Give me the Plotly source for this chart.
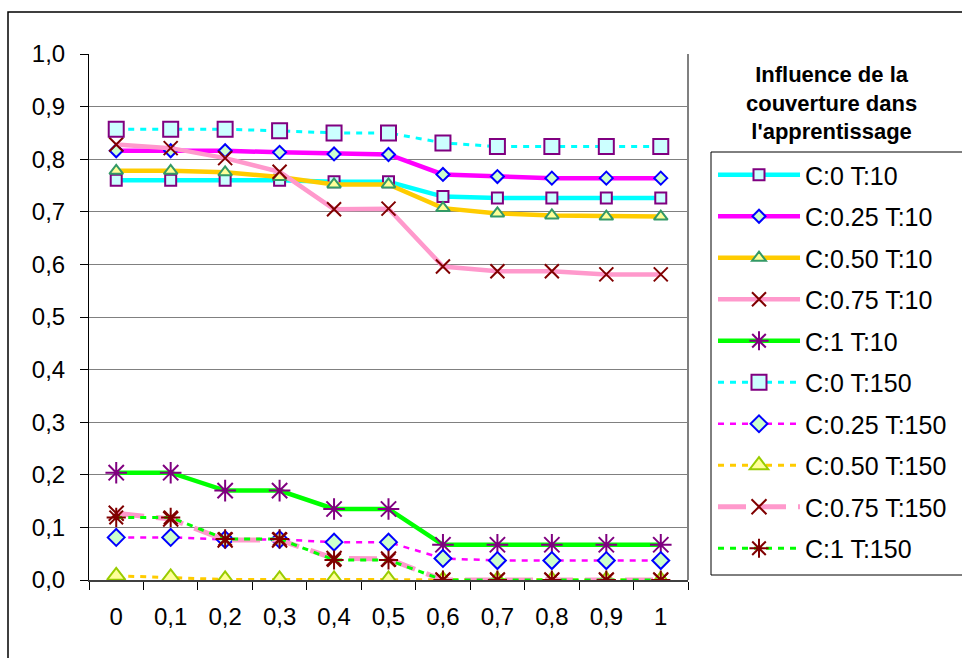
import plotly.graph_objects as go

# ---- data ----
x_labels = ["0", "0,1", "0,2", "0,3", "0,4", "0,5", "0,6", "0,7", "0,8", "0,9", "1"]

c0_t10 = [0.760, 0.760, 0.760, 0.760, 0.757, 0.757, 0.729, 0.726, 0.726, 0.726, 0.726]
c25_t10 = [0.816, 0.816, 0.816, 0.813, 0.810, 0.809, 0.771, 0.767, 0.764, 0.764, 0.764]
c50_t10 = [0.778, 0.778, 0.775, 0.766, 0.752, 0.752, 0.707, 0.697, 0.693, 0.691, 0.691]
c75_t10 = [0.828, 0.821, 0.802, 0.776, 0.705, 0.706, 0.596, 0.587, 0.587, 0.581, 0.581]
c1_t10 = [0.204, 0.204, 0.170, 0.170, 0.135, 0.135, 0.067, 0.067, 0.067, 0.067, 0.067]
c0_t150 = [0.857, 0.857, 0.857, 0.854, 0.850, 0.850, 0.831, 0.824, 0.824, 0.824, 0.824]
c25_t150 = [0.081, 0.081, 0.077, 0.077, 0.072, 0.072, 0.041, 0.037, 0.037, 0.037, 0.037]
c50_t150 = [0.008, 0.005, 0.001, 0.001, 0.001, 0.001, 0.0, 0.0, 0.0, 0.0, 0.0]
c75_t150 = [0.127, 0.116, 0.076, 0.076, 0.041, 0.040, 0.0, 0.0, 0.0, 0.0, 0.0]
c1_t150 = [0.119, 0.119, 0.078, 0.078, 0.038, 0.038, 0.0, 0.0, 0.0, 0.0, 0.0]

series_names = ["C:0 T:10", "C:0.25 T:10", "C:0.50 T:10", "C:0.75 T:10", "C:1 T:10",
                "C:0 T:150", "C:0.25 T:150", "C:0.50 T:150", "C:0.75 T:150", "C:1 T:150"]
series_values = [c0_t10, c25_t10, c50_t10, c75_t10, c1_t10,
                 c0_t150, c25_t150, c50_t150, c75_t150, c1_t150]

# ---- styles ----
styles = [
    dict(lc="#00FFFF", lw=4.5, dash="solid", sym="square", ms=11, mc="#CCFFFF", mlc="#800080", mlw=2),
    dict(lc="#FF00FF", lw=4.5, dash="solid", sym="diamond", ms=10, mc="#CCFFCC", mlc="#0000FF", mlw=2),
    dict(lc="#FFCC00", lw=4.5, dash="solid", sym="triangle-up", ms=12, mc="#FFFF99", mlc="#339966", mlw=2),
    dict(lc="#FF99CC", lw=4.5, dash="solid", sym="x-thin-open", ms=14, mc="#800000", mlc="#800000", mlw=2),
    dict(lc="#00FF00", lw=4.5, dash="solid", sym="asterisk-open", ms=18, mc="#800080", mlc="#800080", mlw=2),
    dict(lc="#00FFFF", lw=3, dash="6px,6px", sym="square", ms=15, mc="#CCFFFF", mlc="#800080", mlw=2),
    dict(lc="#FF00FF", lw=2.5, dash="6px,6px", sym="diamond", ms=13, mc="#CCFFCC", mlc="#0000FF", mlw=2),
    dict(lc="#FFCC00", lw=3, dash="6px,6px", sym="triangle-up", ms=16, mc="#FFFF99", mlc="#99CC00", mlw=2),
    dict(lc="#FF99CC", lw=5, dash="28px,12px", sym="x-thin-open", ms=15, mc="#800000", mlc="#800000", mlw=2),
    dict(lc="#00FF00", lw=3, dash="6px,6px", sym="asterisk-open", ms=16, mc="#800000", mlc="#800000", mlw=2),
]

fig = go.Figure()
for i, (name, vals, st) in enumerate(zip(series_names, series_values, styles)):
    fig.add_trace(go.Scatter(
        x=x_labels, y=vals, name=name, mode="lines+markers",
        legendgroup="g%d" % i,
        line=dict(color=st["lc"], width=st["lw"], dash=st["dash"]),
        marker=dict(symbol=st["sym"], size=st["ms"], color=st["mc"],
                    line=dict(color=st["mlc"], width=st["mlw"])),
    ))

W, H = 962, 658
L, R, T, B = 89, 688, 54, 580
pw, ph = R - L, B - T

def px(xp):
    return (xp - L) / pw

def py(yp):
    return (B - yp) / ph

font_family = "Arial, Liberation Sans, sans-serif"

fig.update_layout(
    width=W, height=H,
    margin=dict(l=L, r=W - R, t=T, b=H - B, autoexpand=False),
    paper_bgcolor="white", plot_bgcolor="white",
    separators=", ",
    font=dict(family=font_family, size=24, color="black"),
    showlegend=True,
    legend=dict(
        x=px(713), y=py(152), xanchor="left", yanchor="top",
        bgcolor="rgba(0,0,0,0)", borderwidth=0,
        font=dict(family=font_family, size=25, color="black"),
        itemwidth=82, traceorder="grouped", tracegroupgap=6,
    ),
    xaxis=dict(
        type="category", range=[-0.5, len(x_labels) - 0.5], autorange=False,
        showgrid=False, showline=True, linecolor="#404040", linewidth=2,
        ticks="outside", tickson="boundaries", ticklen=8, tickcolor="black", tickwidth=1,
        tickfont=dict(size=24), ticklabelstandoff=14, zeroline=False,
    ),
    yaxis=dict(
        range=[0, 1], dtick=0.1, tickformat=".1f", showgrid=True, gridcolor="#808080",
        gridwidth=1, showline=True, linecolor="black", linewidth=1, ticks="outside",
        ticklen=8, tickcolor="black", tickfont=dict(size=24), zeroline=False,
        ticklabelstandoff=10,
    ),
    shapes=[
        # plot area right border
        dict(type="line", xref="paper", yref="paper", x0=1, x1=1, y0=0, y1=1,
             line=dict(color="#808080", width=2)),
        # outer chart frame
        dict(type="rect", xref="paper", yref="paper", x0=px(8), x1=px(975), y0=py(670), y1=py(12),
             line=dict(color="black", width=1.5)),
        # legend box
        dict(type="rect", xref="paper", yref="paper", x0=px(711), x1=px(975), y0=py(575), y1=py(152),
             line=dict(color="black", width=1)),
    ],
    annotations=[
        dict(text="<b>Influence de la<br>couverture dans<br>l'apprentissage</b>",
             xref="paper", yref="paper", x=px(831), y=py(103), xanchor="center", yanchor="middle",
             showarrow=False, align="center",
             font=dict(family=font_family, size=22, color="black")),
    ],
)

fig.write_html("out.html")
